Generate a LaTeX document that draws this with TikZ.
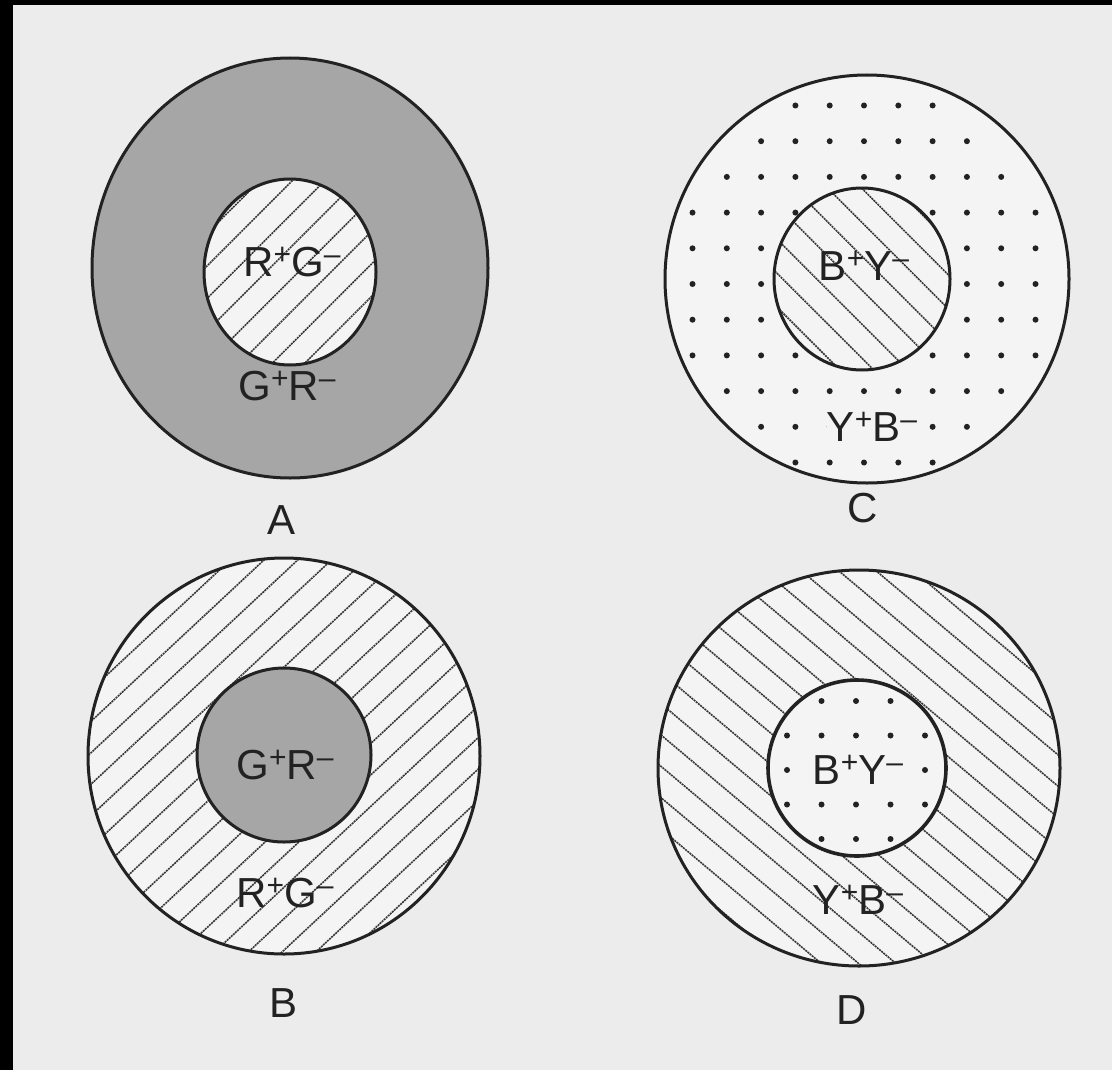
\documentclass[tikz,border=0pt]{standalone}
\usepackage{fontspec}
\setmainfont{Liberation Sans}
\begin{document}
\begin{tikzpicture}[x=0.5pt,y=-0.5pt]
% colours
\definecolor{paper}{RGB}{236,236,236}
\definecolor{blank}{RGB}{244,244,244}
\definecolor{greytone}{RGB}{166,166,166}
\definecolor{ink}{RGB}{34,34,34}
\tikzset{
  ring/.style={draw=ink,line width=1.5pt},
  hatchline/.style={draw=ink!90,line width=0.8pt,dash pattern=on 1pt off 0.4pt},
  dotmark/.style={fill=ink},
  lbl/.style={font=\fontsize{21}{24}\selectfont,text=ink,inner sep=0pt},
  caplbl/.style={font=\fontsize{21}{24}\selectfont,text=ink,inner sep=0pt},
}
% letter followed by a small raised sign
\newcommand\chg[2]{#1\raisebox{0.3em}{\fontsize{15}{15}\selectfont#2}}
% sheet with dark scan edges
\fill[paper] (0,0) rectangle (1112,1070);
\useasboundingbox (0,0) rectangle (1112,1070);
\fill[black] (0,0) rectangle (13,1070);
\fill[black] (0,0) rectangle (1112,5);

% ---------- A: grey surround, hatched centre ----------
\fill[greytone] (290,268) ellipse [x radius=198, y radius=210];
\fill[blank] (290,272) ellipse [x radius=86, y radius=93];
\begin{scope}
  \clip (290,272) ellipse [x radius=86, y radius=93];
  \begin{scope}[shift={(290,272)},rotate=45]
    \foreach \k in {-6,...,6} \draw[hatchline] (-140,\k*23+6) -- (140,\k*23+6);
  \end{scope}
\end{scope}
\draw[ring] (290,268) ellipse [x radius=198, y radius=210];
\draw[ring] (290,272) ellipse [x radius=86, y radius=93];
\node[lbl] (aIn) at (292,262) {\chg{R}{+}\chg{G}{–}};
\node[lbl] (aOut) at (287,386) {\chg{G}{+}\chg{R}{–}};
\node[caplbl] (aCap) at (282,520) {A};

% ---------- B: hatched surround, grey centre ----------
\fill[blank] (284,756) ellipse [x radius=196, y radius=198];
\begin{scope}
  \clip (284,756) ellipse [x radius=196, y radius=198];
  \begin{scope}[shift={(284,756)},rotate=43]
    \foreach \k in {-11,...,11} \draw[hatchline] (-260,\k*23+4) -- (260,\k*23+4);
  \end{scope}
\end{scope}
\fill[greytone] (284,755) ellipse [x radius=87, y radius=87];
\draw[ring] (284,756) ellipse [x radius=196, y radius=198];
\draw[ring] (284,755) ellipse [x radius=87, y radius=87];
\node[lbl] (bIn) at (285,765) {\chg{G}{+}\chg{R}{–}};
\node[lbl] (bOut) at (285,893) {\chg{R}{+}\chg{G}{–}};
\node[caplbl] (bCap) at (284,1003) {B};

% ---------- C: dotted surround, hatched centre ----------
\fill[blank] (867,279) ellipse [x radius=202, y radius=204];
\foreach \i in {-6,...,6} {
  \foreach \j in {-6,...,6} {
    \pgfmathtruncatemacro\keep{((\i*34.3+3)/192)^2+((\j*35.7)/195)^2<1 && ((\i*34.3+2)/88)^2+((\j*35.7+5)/91)^2>1}
    \ifnum\keep=1 \fill[dotmark] (864+\i*34.3,284+\j*35.7) circle [radius=3]; \fi
  }
}
\fill[blank] (862,279) ellipse [x radius=88, y radius=91];
\begin{scope}
  \clip (862,279) ellipse [x radius=88, y radius=91];
  \begin{scope}[shift={(862,279)},rotate=-45]
    \foreach \k in {-6,...,6} \draw[hatchline] (-140,\k*24+8) -- (140,\k*24+8);
  \end{scope}
\end{scope}
\draw[ring] (867,279) ellipse [x radius=202, y radius=204];
\draw[ring] (862,279) ellipse [x radius=88, y radius=91];
\node[lbl] (cIn) at (864,266) {\chg{B}{+}\chg{Y}{–}};
\node[lbl,fill=blank] (cOut) at (872,427) {\chg{Y}{+}\chg{B}{–}};
\node[caplbl] (cCap) at (863,508) {C};

% ---------- D: hatched surround, dotted centre ----------
\fill[blank] (859,768) ellipse [x radius=201, y radius=198];
\begin{scope}
  \clip (859,768) ellipse [x radius=201, y radius=198];
  \begin{scope}[shift={(859,768)},rotate=-40]
    \foreach \k in {-11,...,11} \draw[hatchline] (-260,\k*24+6) -- (260,\k*24+6);
  \end{scope}
\end{scope}
\fill[blank] (857,768) ellipse [x radius=89, y radius=88];
\foreach \i in {-3,...,3} {
  \foreach \j in {-3,...,3} {
    \pgfmathtruncatemacro\keep{((\i*34.5)/80)^2+((\j*34.5)/79)^2<1}
    \ifnum\keep=1 \fill[dotmark] (856+\i*34.5,770+\j*34.5) circle [radius=3]; \fi
  }
}
\draw[ring] (859,768) ellipse [x radius=201, y radius=198];
\draw[ring,line width=1.8pt] (857,768) ellipse [x radius=89, y radius=88];
\node[lbl,fill=blank] (dIn) at (858,770) {\chg{B}{+}\chg{Y}{–}};
\node[lbl] (dOut) at (858,900) {\chg{Y}{+}\chg{B}{–}};
\node[caplbl] (dCap) at (852,1010) {D};
\end{tikzpicture}
\end{document}
